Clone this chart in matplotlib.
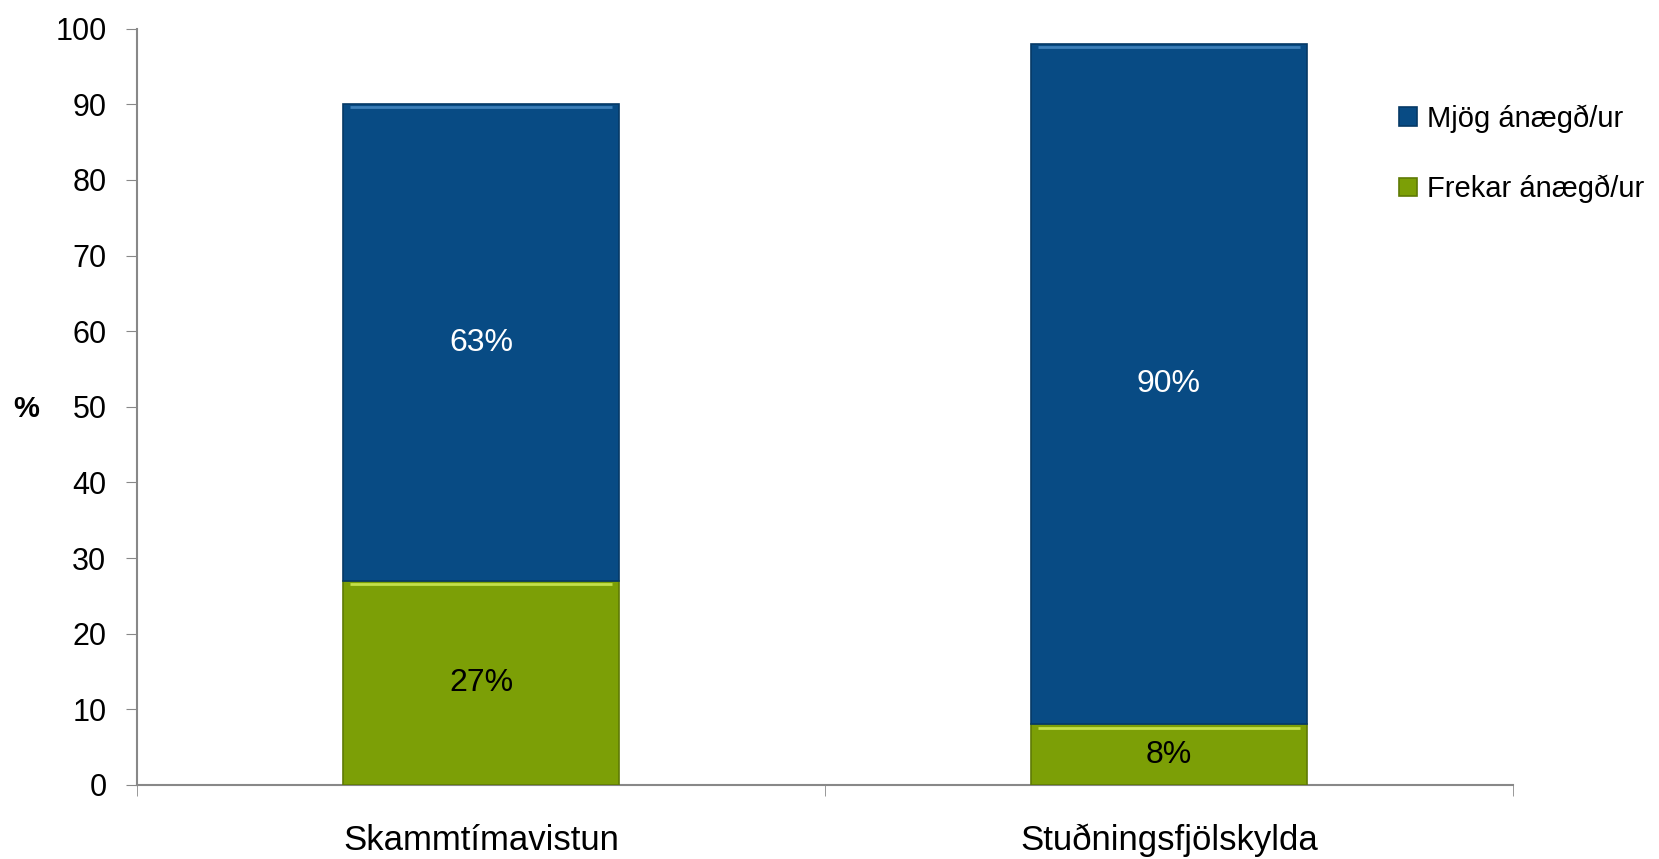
import matplotlib.pyplot as plt
import numpy as np

categories = ['Skammtímavistun', 'Stuðningsfjölskylda']
frekar = [27, 8]
mjog = [63, 90]
series_names = ['Mjög ánægð/ur', 'Frekar ánægð/ur']

BLUE = '#084b84'
GREEN = '#7c9f06'
FONT = ['Liberation Sans', 'DejaVu Sans']


def main():
    fig = plt.figure(figsize=(16.59, 8.59), dpi=100)
    ax = fig.add_axes([137 / 1659, 1 - 785 / 859, (1513 - 137) / 1659, (785 - 28.6) / 859])

    x = np.arange(len(categories))
    w = 0.4
    b1 = ax.bar(x, frekar, w, color=GREEN, edgecolor='#5f7a05', linewidth=1.2,
                label=series_names[1], zorder=3)
    b2 = ax.bar(x, mjog, w, bottom=frekar, color=BLUE, edgecolor='#063a66',
                linewidth=1.2, label=series_names[0], zorder=3)

    # light bevel line on top of each segment
    for bars, col in ((b1, '#c4e04a'), (b2, '#3d7fb8')):
        for r in bars:
            top = r.get_y() + r.get_height()
            ax.plot([r.get_x() + 0.01, r.get_x() + r.get_width() - 0.01], [top - 0.4, top - 0.4],
                    color=col, lw=2, zorder=4, solid_capstyle='butt')

    for i in range(len(categories)):
        ax.text(x[i], frekar[i] / 2, f'{frekar[i]}%', ha='center', va='center',
                fontsize=23, family=FONT, color='black', zorder=5)
        ax.text(x[i], frekar[i] + mjog[i] / 2, f'{mjog[i]}%', ha='center', va='center',
                fontsize=23, family=FONT, color='white', zorder=5)

    ax.set_xlim(-0.5, len(categories) - 0.5)
    ax.set_ylim(0, 100)
    ax.set_yticks(range(0, 101, 10))
    ax.set_xticks(x)
    ax.set_xticklabels(categories, fontsize=25, family=FONT)
    ax.tick_params(axis='x', length=0, pad=28)
    ax.set_xticks([-0.5, 0.5, 1.5], minor=True)
    ax.tick_params(axis='x', which='minor', length=8, color='#888888', direction='out')
    ax.tick_params(axis='y', labelsize=22, length=8, color='#888888', direction='out', pad=14)
    for lab in ax.get_yticklabels():
        lab.set_family(FONT)

    for s in ('top', 'right'):
        ax.spines[s].set_visible(False)
    for s in ('left', 'bottom'):
        ax.spines[s].set_color('#888888')
        ax.spines[s].set_linewidth(1.5)

    fig.text(26 / 1659, 1 - 409 / 859, '%', fontsize=21, fontweight='bold',
             family=FONT, ha='center', va='center')

    handles = [b2, b1]
    fig.legend(handles, series_names, loc='upper left',
               bbox_to_anchor=(1373 / 1659, 1 - 78 / 859), frameon=False,
               prop={'family': FONT, 'size': 21}, handlelength=0.6,
               handleheight=0.6, handletextpad=0.35, labelspacing=1.45)

    plt.savefig('out.png')


if __name__ == '__main__':
    main()
